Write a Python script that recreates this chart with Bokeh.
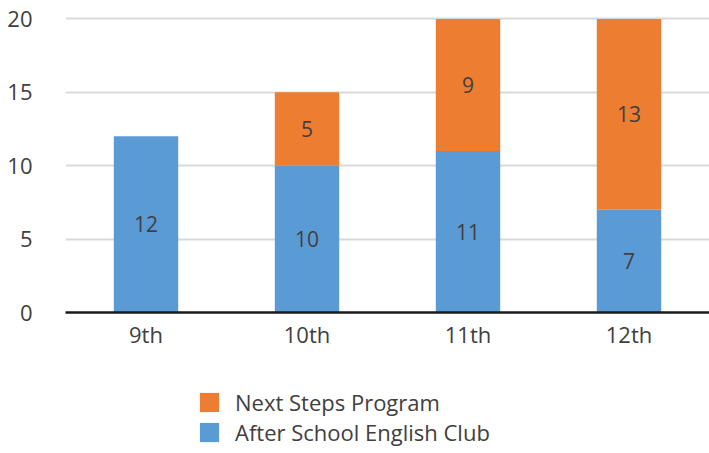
from bokeh.plotting import figure
from bokeh.layouts import column
from bokeh.models import ColumnDataSource, Range1d, FactorRange, Legend, LegendItem, LabelSet
from bokeh.embed import file_html
from bokeh.resources import INLINE
from bokeh.core.properties import value

grades = ["9th", "10th", "11th", "12th"]
club = [12, 10, 11, 7]
next_steps = [0, 5, 9, 13]
y_ticks = [0, 5, 10, 15, 20]

BLUE = "#5B9BD5"
ORANGE = "#ED7D31"
TXT = "#404040"
FONT = "Open Sans"

src = ColumnDataSource(dict(
    g=grades, club=club, ns=next_steps,
    club_mid=[c / 2 for c in club],
    ns_mid=[c + n / 2 for c, n in zip(club, next_steps)],
    ns_top=[c + n for c, n in zip(club, next_steps)],
    club_lbl=[str(c) for c in club],
    ns_lbl=[str(n) if n else "" for n in next_steps],
))

p = figure(frame_width=644, frame_height=298, x_range=FactorRange(*grades, range_padding=0),
           y_range=Range1d(0, 20.3), output_backend="svg", toolbar_location=None,
           min_border_left=65, min_border_right=0, min_border_top=14, min_border_bottom=68)
p.outline_line_color = None

r1 = p.vbar(x="g", bottom=0, top="club", width=0.4, source=src, fill_color=BLUE, line_color=None)
r2 = p.vbar(x="g", bottom="club", top="ns_top", width=0.4, source=src, fill_color=ORANGE, line_color=None)

for ycol, tcol in (("club_mid", "club_lbl"), ("ns_mid", "ns_lbl")):
    p.add_layout(LabelSet(x="g", y=ycol, text=tcol, source=src, text_align="center",
                          text_baseline="middle", text_color=TXT, text_font_size="21px",
                          text_font=value(FONT)))

p.yaxis.ticker = y_ticks
p.yaxis.axis_line_color = None
p.yaxis.major_tick_line_color = None
p.yaxis.minor_tick_line_color = None
p.yaxis.major_label_standoff = 27
p.yaxis.major_label_text_font_size = "22px"
p.yaxis.major_label_text_color = TXT
p.yaxis.major_label_text_font = FONT

p.xaxis.axis_line_color = "#1a1a1a"
p.xaxis.axis_line_width = 2.5
p.xaxis.major_tick_line_color = None
p.xaxis.minor_tick_line_color = None
p.xaxis.major_label_standoff = 0
p.xaxis.major_label_text_font_size = "22px"
p.xaxis.major_label_text_color = TXT
p.xaxis.major_label_text_font = FONT

p.xgrid.grid_line_color = None
p.ygrid.grid_line_color = "#d9d9d9"
p.ygrid.grid_line_width = 2

# legend strip below the chart (its renderers are hidden; only the legend shows)
p2 = figure(width=709, height=73, x_range=FactorRange(*grades), y_range=Range1d(0, 20.3),
            x_axis_type=None, y_axis_type=None, output_backend="svg", toolbar_location=None,
            min_border_left=0, min_border_right=0, min_border_top=0, min_border_bottom=0)
p2.outline_line_color = None
p2.grid.grid_line_color = None
l1 = p2.vbar(x="g", bottom=0, top="club", width=0.4, source=src, fill_color=BLUE, line_color=None,
             visible=False)
l2 = p2.vbar(x="g", bottom="club", top="ns_top", width=0.4, source=src, fill_color=ORANGE,
             line_color=None, visible=False)

legend = Legend(items=[LegendItem(label="Next Steps Program", renderers=[l2]),
                       LegendItem(label="After School English Club", renderers=[l1])],
                location=(132, 6), orientation="vertical",
                glyph_width=24, glyph_height=24, spacing=-5, padding=0, margin=0,
                label_text_font_size="22px", label_text_color=TXT, label_text_font=FONT,
                label_standoff=14, border_line_color=None, background_fill_alpha=0,
                inactive_fill_alpha=0, click_policy="none")
p2.add_layout(legend, "center")

layout = column(p, p2, spacing=0)
open("out.html", "w").write(file_html(layout, INLINE))
